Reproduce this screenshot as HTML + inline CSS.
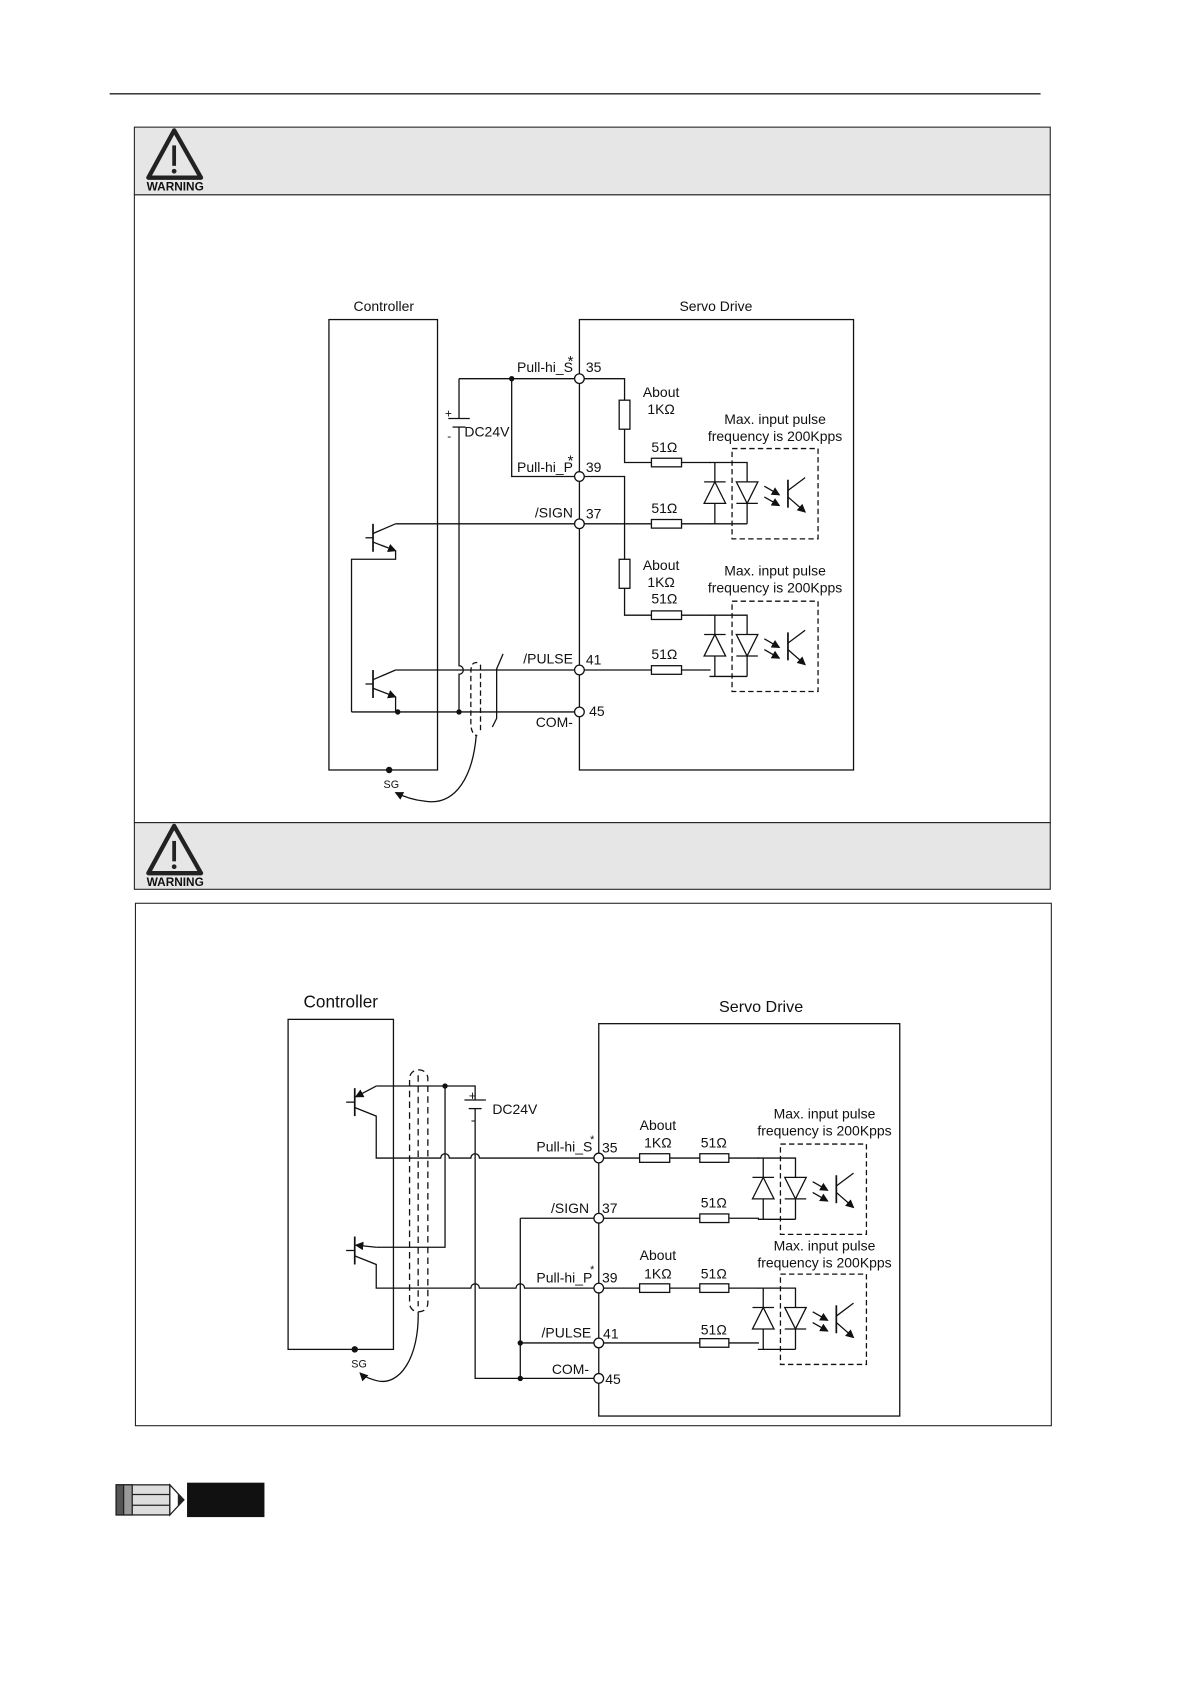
<!DOCTYPE html>
<html><head><meta charset="utf-8"><style>
html,body{margin:0;padding:0;background:#fff}
svg{display:block}
text{font-family:"Liberation Sans",Arial,sans-serif;fill:#111}
</style></head><body>
<svg width="1190" height="1684" viewBox="0 0 1107 1566" xmlns="http://www.w3.org/2000/svg">
<defs>
<marker id="ar" markerWidth="8" markerHeight="8" refX="7" refY="4" orient="auto" markerUnits="userSpaceOnUse"><path d="M0,0 L8,4 L0,8 z" fill="#111"/></marker>
<g id="warn">
<polygon points="27,2 3,46 52,46" fill="none" stroke="#222" stroke-width="4" stroke-linejoin="round"/>
<line x1="27" y1="16" x2="27" y2="35" stroke="#222" stroke-width="3.5"/>
<circle cx="27" cy="40" r="2.2" fill="#222"/>
<text x="28" y="58" font-size="11" font-weight="bold" text-anchor="middle">WARNING</text>
</g>
<g id="opto" fill="none" stroke="#111" stroke-width="1.2">
<path d="M-5,0 H30 V57 M-5,57 H30 M0,0 V57"/>
<polygon points="0,18 -10,38 10,38" fill="#fff"/><line x1="-10" y1="18" x2="10" y2="18"/>
<polygon points="30,38 20,18 40,18" fill="#fff"/><line x1="20" y1="38" x2="40" y2="38"/>
<rect x="16" y="-13" width="80" height="84" stroke-dasharray="5,3"/>
<line x1="46" y1="22" x2="60" y2="30" marker-end="url(#ar)"/>
<line x1="46" y1="32" x2="60" y2="40" marker-end="url(#ar)"/>
<line x1="68" y1="16" x2="68" y2="42" stroke-width="1.6"/>
<line x1="68" y1="26" x2="84" y2="14"/>
<line x1="68" y1="32" x2="84" y2="46" marker-end="url(#ar)"/>
</g>
</defs>

<line x1="102" y1="87" x2="968" y2="87" stroke="#222" stroke-width="1.2"/>

<rect x="125" y="118" width="852" height="63" fill="#e6e6e6" stroke="#222" stroke-width="1"/>
<rect x="125" y="181" width="852" height="584" fill="#fff" stroke="#222" stroke-width="1"/>
<rect x="125" y="765" width="852" height="62" fill="#e6e6e6" stroke="#222" stroke-width="1"/>
<use href="#warn" x="135" y="119"/>
<use href="#warn" x="135" y="766"/>
<rect x="126" y="840" width="852" height="486" fill="#fff" stroke="#222" stroke-width="1"/>

<!-- Diagram 1 -->
<g fill="none" stroke="#111" stroke-width="1.2">
<rect x="306" y="297" width="101" height="419"/>
<rect x="539" y="297" width="255" height="419"/>
<path d="M427,352 H539 M476,352 V443 H539"/>
<path d="M427,352 V389 M427,397 V619 A4,4 0 0 1 427,627 V662"/>
<line x1="417" y1="389" x2="437" y2="389"/><line x1="421" y1="397" x2="433" y2="397"/>
<path d="M539,352 H581 V372 M581,399 V430 H606 M634,430 H661"/>
<rect x="576" y="372" width="10" height="27" fill="#fff"/>
<rect x="606" y="426" width="28" height="8" fill="#fff"/>
<path d="M539,443 H581 V520 M581,547 V572 H606 M634,572 H661"/>
<rect x="576" y="520" width="10" height="27" fill="#fff"/>
<rect x="606" y="568" width="28" height="8" fill="#fff"/>
<path d="M368,487 H606 M634,487 H661"/>
<rect x="606" y="483" width="28" height="8" fill="#fff"/>
<path d="M368,623 H606 M634,623 H661"/>
<rect x="606" y="619" width="28" height="8" fill="#fff"/>
<path d="M327,662 H539"/>
<line x1="347" y1="487" x2="347" y2="513" stroke-width="1.6"/>
<line x1="340" y1="500" x2="347" y2="500"/>
<path d="M347,496 L368,487"/>
<path d="M347,504 L368,512" marker-end="url(#ar)"/>
<path d="M368,512 V520 H327 V662"/>
<line x1="347" y1="623" x2="347" y2="649" stroke-width="1.6"/>
<line x1="340" y1="636" x2="347" y2="636"/>
<path d="M347,632 L368,623"/>
<path d="M347,640 L368,648" marker-end="url(#ar)"/>
<path d="M368,648 V662"/>
<path d="M444,616 C438,616 438,620 438,630 V672 C438,682 442,684 444,684" stroke-dasharray="5,3"/>
<line x1="447" y1="618" x2="447" y2="682" stroke-dasharray="5,3"/>
<path d="M468,608 L462,622 V668 L458,676"/>
<path d="M443,684 C440,720 425,750 395,745 C385,744 376,741 368,737" marker-end="url(#ar)"/>
</g>
<circle cx="476" cy="352" r="2.5" fill="#111"/>
<circle cx="427" cy="662" r="2.5" fill="#111"/>
<circle cx="370" cy="662" r="2.5" fill="#111"/>
<circle cx="362" cy="716" r="3" fill="#111"/>
<g fill="#fff" stroke="#111" stroke-width="1.2">
<circle cx="539" cy="352" r="4.5"/><circle cx="539" cy="443" r="4.5"/><circle cx="539" cy="487" r="4.5"/><circle cx="539" cy="623" r="4.5"/><circle cx="539" cy="662" r="4.5"/>
</g>
<use href="#opto" x="665" y="430"/>
<use href="#opto" x="665" y="572"/>
<g font-size="13">
<text x="357" y="289" text-anchor="middle">Controller</text>
<text x="666" y="289" text-anchor="middle">Servo Drive</text>
<text x="533" y="346" text-anchor="end">Pull-hi_S</text><text x="528" y="340" font-size="14">*</text><text x="545" y="346">35</text>
<text x="533" y="439" text-anchor="end">Pull-hi_P</text><text x="528" y="433" font-size="14">*</text><text x="545" y="439">39</text>
<text x="533" y="481" text-anchor="end">/SIGN</text><text x="545" y="482">37</text>
<text x="533" y="617" text-anchor="end">/PULSE</text><text x="545" y="618">41</text>
<text x="548" y="666">45</text><text x="533" y="676" text-anchor="end">COM-</text>
<text x="414" y="388" font-size="11">+</text><text x="416" y="409" font-size="11">-</text>
<text x="432" y="406">DC24V</text>
<text x="615" y="369" text-anchor="middle">About</text><text x="615" y="385" text-anchor="middle">1KΩ</text>
<text x="618" y="420" text-anchor="middle">51Ω</text><text x="618" y="477" text-anchor="middle">51Ω</text>
<text x="721" y="394" text-anchor="middle">Max. input pulse</text><text x="721" y="410" text-anchor="middle">frequency is 200Kpps</text>
<text x="615" y="530" text-anchor="middle">About</text><text x="615" y="546" text-anchor="middle">1KΩ</text>
<text x="618" y="561" text-anchor="middle">51Ω</text><text x="618" y="613" text-anchor="middle">51Ω</text>
<text x="721" y="535" text-anchor="middle">Max. input pulse</text><text x="721" y="551" text-anchor="middle">frequency is 200Kpps</text>
<text x="364" y="733" text-anchor="middle" font-size="10">SG</text>
</g>

<!-- Diagram 2 -->
<g fill="none" stroke="#111" stroke-width="1.2">
<rect x="268" y="948" width="98" height="307"/>
<rect x="557" y="952" width="280" height="365"/>
<line x1="330" y1="1012" x2="330" y2="1038" stroke-width="1.6"/>
<line x1="322" y1="1025" x2="330" y2="1025"/>
<path d="M350,1010 L331,1020" marker-end="url(#ar)"/>
<path d="M330,1030 L350,1038 V1077 H410 A4,4 0 0 1 418,1077 H438 A4,4 0 0 1 446,1077 H595 M623,1077 H651"/>
<path d="M350,1010 H442 V1023 M442,1031 V1282 H557"/>
<line x1="432" y1="1023" x2="452" y2="1023"/><line x1="436" y1="1031" x2="448" y2="1031"/>
<path d="M414,1010 V1160 H350"/>
<line x1="330" y1="1150" x2="330" y2="1176" stroke-width="1.6"/>
<line x1="322" y1="1163" x2="330" y2="1163"/>
<path d="M350,1160 L331,1158" marker-end="url(#ar)"/>
<path d="M330,1168 L350,1176 V1198 H438 A4,4 0 0 1 446,1198 H480 A4,4 0 0 1 488,1198 H595 M623,1198 H651"/>
<path d="M484,1133 H651 M484,1133 V1282 M484,1249 H651"/>
<rect x="595" y="1073" width="28" height="8" fill="#fff"/>
<rect x="651" y="1073" width="27" height="8" fill="#fff"/>
<rect x="651" y="1129" width="27" height="8" fill="#fff"/>
<rect x="595" y="1194" width="28" height="8" fill="#fff"/>
<rect x="651" y="1194" width="27" height="8" fill="#fff"/>
<rect x="651" y="1245" width="27" height="8" fill="#fff"/>
<rect x="381" y="995" width="17" height="225" rx="8" stroke-dasharray="6,4"/>
<line x1="389" y1="1000" x2="389" y2="1215" stroke-dasharray="6,4"/>
<path d="M389,1220 C390,1262 372,1290 350,1284 C343,1282 338,1280 335,1277" marker-end="url(#ar)"/>
</g>
<circle cx="414" cy="1010" r="2.5" fill="#111"/>
<circle cx="484" cy="1249" r="2.5" fill="#111"/>
<circle cx="484" cy="1282" r="2.5" fill="#111"/>
<circle cx="330" cy="1255" r="3" fill="#111"/>
<g fill="#fff" stroke="#111" stroke-width="1.2">
<circle cx="557" cy="1077" r="4.5"/><circle cx="557" cy="1133" r="4.5"/><circle cx="557" cy="1198" r="4.5"/><circle cx="557" cy="1249" r="4.5"/><circle cx="557" cy="1282" r="4.5"/>
</g>
<use href="#opto" x="710" y="1077"/>
<use href="#opto" x="710" y="1198"/>
<g fill="none" stroke="#111" stroke-width="1.2">
<path d="M678,1077 H706 M678,1133 H706 M678,1198 H706 M678,1249 H706"/>
</g>
<g font-size="13">
<text x="317" y="937" text-anchor="middle" font-size="16">Controller</text>
<text x="708" y="941" text-anchor="middle" font-size="15">Servo Drive</text>
<text x="551" y="1071" text-anchor="end">Pull-hi_S</text><text x="549" y="1063" font-size="10">*</text><text x="560" y="1072">35</text>
<text x="548" y="1128" text-anchor="end">/SIGN</text><text x="560" y="1128">37</text>
<text x="551" y="1193" text-anchor="end">Pull-hi_P</text><text x="549" y="1184" font-size="10">*</text><text x="560" y="1193">39</text>
<text x="550" y="1244" text-anchor="end">/PULSE</text><text x="561" y="1245">41</text>
<text x="548" y="1278" text-anchor="end">COM-</text><text x="563" y="1287">45</text>
<text x="436" y="1023" font-size="12">+</text><text x="438" y="1046" font-size="12">-</text>
<text x="458" y="1036">DC24V</text>
<text x="612" y="1051" text-anchor="middle">About</text><text x="612" y="1067" text-anchor="middle">1KΩ</text>
<text x="664" y="1067" text-anchor="middle">51Ω</text><text x="664" y="1123" text-anchor="middle">51Ω</text>
<text x="767" y="1040" text-anchor="middle">Max. input pulse</text><text x="767" y="1056" text-anchor="middle">frequency is 200Kpps</text>
<text x="612" y="1172" text-anchor="middle">About</text><text x="612" y="1189" text-anchor="middle">1KΩ</text>
<text x="664" y="1189" text-anchor="middle">51Ω</text><text x="664" y="1241" text-anchor="middle">51Ω</text>
<text x="767" y="1163" text-anchor="middle">Max. input pulse</text><text x="767" y="1179" text-anchor="middle">frequency is 200Kpps</text>
<text x="334" y="1272" text-anchor="middle" font-size="10">SG</text>
</g>

<g stroke="#222" stroke-width="1.2">
<rect x="108" y="1381" width="50" height="28" fill="#ddd"/>
<rect x="108" y="1381" width="7" height="28" fill="#555"/>
<rect x="115" y="1381" width="8" height="28" fill="#999"/>
<line x1="123" y1="1390" x2="158" y2="1390"/><line x1="123" y1="1400" x2="158" y2="1400"/>
<polygon points="158,1381 171,1395 158,1409" fill="#fff"/>
<polygon points="166,1390 171,1395 166,1400" fill="#222"/>
</g>
<rect x="174" y="1379" width="72" height="32" fill="#111"/>
</svg>
</body></html>
